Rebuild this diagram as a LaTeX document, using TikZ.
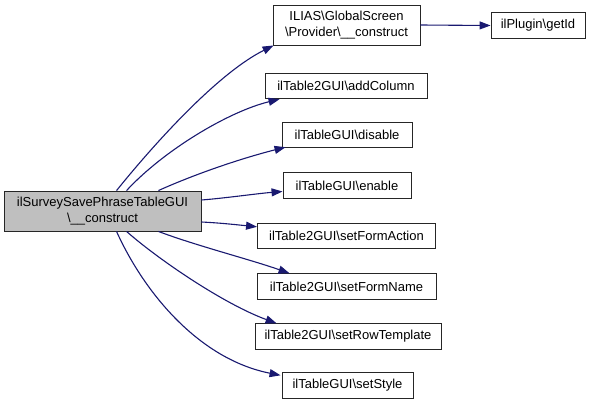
\documentclass[tikz,border=0pt]{standalone}
\usepackage{fontspec}
\setmainfont{Liberation Sans}
\usetikzlibrary{arrows.meta,calc}
\definecolor{edgeblue}{HTML}{191970}
\definecolor{maingray}{HTML}{BFBFBF}
\begin{document}
\begin{tikzpicture}[x=1pt,y=-1pt,
  box/.style={draw=black!85,line width=0.9pt,fill=white,inner sep=0pt,minimum height=25.5pt,
    align=center,font=\fontsize{13}{16}\selectfont},
  edge/.style={draw=edgeblue,line width=1.1pt,-{Triangle[length=11pt,width=8pt]}}]
\useasboundingbox (0,0) rectangle (595,407);
\node[box,fill=maingray,minimum width=197pt,minimum height=40pt] (main) at (102.5,211)
  {ilSurveySavePhraseTableGUI\\\textbackslash\_\_construct};
\node[box,minimum width=147pt,minimum height=40pt] (ilias) at (346.5,25)
  {ILIAS\textbackslash GlobalScreen\\\textbackslash Provider\textbackslash\_\_construct};
\node[box,minimum width=94pt] (plugin) at (538,25.5) {ilPlugin\textbackslash getId};
\node[box,minimum width=162pt] (addcol) at (346,86) {ilTable2GUI\textbackslash addColumn};
\node[box,minimum width=130pt] (disable) at (347,135) {ilTableGUI\textbackslash disable};
\node[box,minimum width=128pt] (enable) at (347,185.5) {ilTableGUI\textbackslash enable};
\node[box,minimum width=178pt] (faction) at (346.5,236) {ilTable2GUI\textbackslash setFormAction};
\node[box,minimum width=179pt] (fname) at (346.5,286.5) {ilTable2GUI\textbackslash setFormName};
\node[box,minimum width=186pt] (rowtpl) at (348,336.5) {ilTable2GUI\textbackslash setRowTemplate};
\node[box,minimum width=131pt] (style) at (347.5,385.5) {ilTableGUI\textbackslash setStyle};

\draw[edge] ([xshift=113pt]main.north west) .. controls +(33,-41) and +(-58,29) .. ([xshift=1pt]ilias.south west);
\draw[edge] ([xshift=123pt]main.north west) .. controls +(38,-41) and +(-50,12) .. ([xshift=15pt]addcol.south west);
\draw[edge] ([xshift=-43pt]main.north east) .. controls +(40,-18) and +(-40,10) .. ([xshift=4pt,yshift=1pt]disable.south west);
\draw[edge] ([yshift=11pt]main.east) .. controls +(25,-2) and +(-25,2) .. ([yshift=-6pt]enable.west);
\draw[edge] ([yshift=-11pt]main.east) .. controls +(20,1) and +(-20,-2) .. ([yshift=-4pt]faction.north west);
\draw[edge] ([xshift=-43pt]main.south east) .. controls +(37,14) and +(-40,-14) .. ([xshift=33pt]fname.north west);
\draw[edge] ([xshift=123pt]main.south west) .. controls +(33,29) and +(-52,-19) .. ([xshift=22pt]rowtpl.north west);
\draw[edge] ([xshift=113pt]main.south west) .. controls +(28,62) and +(-81,-16) .. ([xshift=-1pt,yshift=-3pt]style.north west);
\draw[edge] (ilias.east) -- (plugin.west);
\end{tikzpicture}
\end{document}
